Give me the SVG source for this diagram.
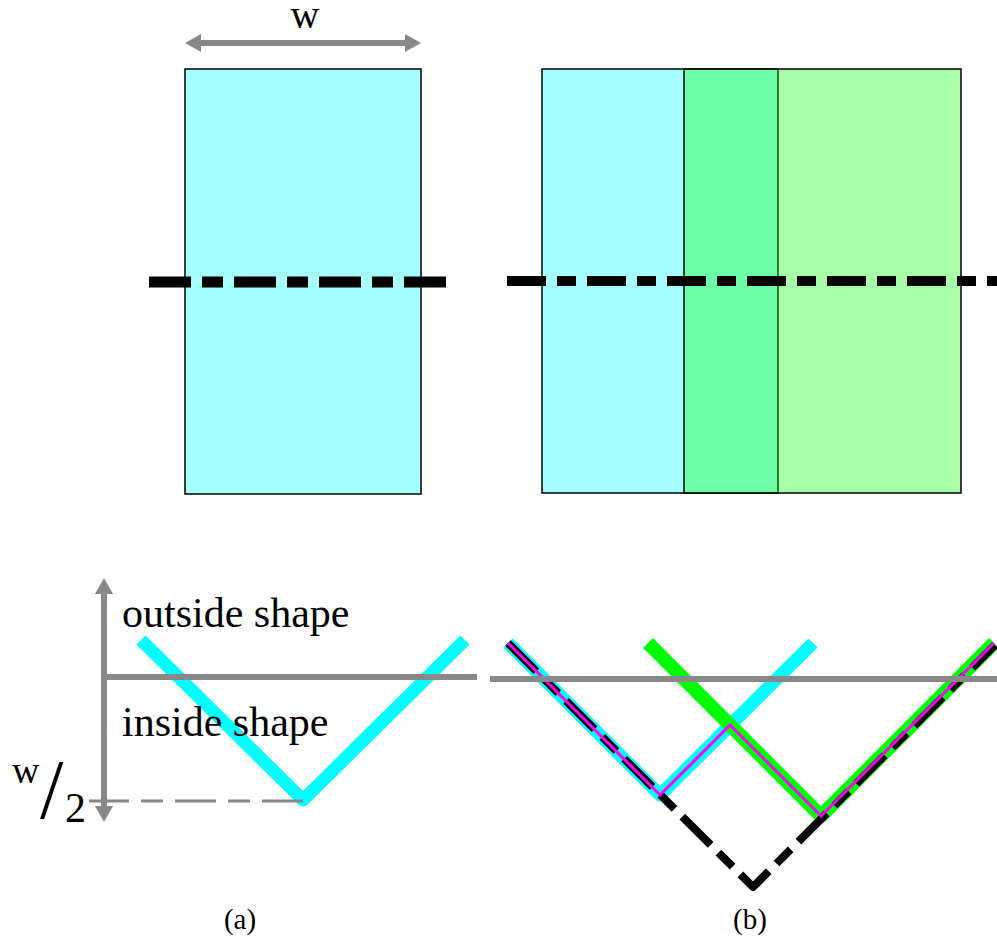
<svg xmlns="http://www.w3.org/2000/svg" width="997" height="942" viewBox="0 0 997 942">
<style>
  .txt { font-family: "Liberation Serif", "Times New Roman", serif; fill: #000; }
  .rect { stroke: #000; stroke-width: 1.5; }
  .dashdot { fill: none; stroke: #000; }
  .gray { fill: none; stroke: #888; stroke-width: 6; }
  .vcyan { fill: none; stroke: #00FFFF; stroke-width: 13; stroke-linejoin: round; }
  .vgreen { fill: none; stroke: #00FF00; stroke-width: 14; stroke-linejoin: round; }
</style>
<defs>
  <marker id="ah" viewBox="0 0 16 18" refX="6" refY="9" markerWidth="16" markerHeight="18" markerUnits="userSpaceOnUse" orient="auto-start-reverse">
    <path d="M0,0 L16,9 L0,18 z" fill="#888"/>
  </marker>
</defs>
<rect width="997" height="942" fill="#fff"/>

<g id="panel-a-top">
  <rect id="rect-a" class="rect" x="185" y="69" width="236" height="425" fill="#A6FFFF"/>
  <path class="dashdot" d="M149,282 H448" stroke-width="11" stroke-dasharray="42 11 21 11"/>
  <line class="gray" x1="195" y1="43" x2="411" y2="43" marker-start="url(#ah)" marker-end="url(#ah)"/>
  <text class="txt" x="305" y="28" font-size="40" text-anchor="middle">w</text>
</g>

<g id="panel-b-top">
  <rect id="rect-b-cyan" class="rect" x="542" y="69" width="236" height="424" fill="#00FFFF" fill-opacity="0.35"/>
  <rect id="rect-b-green" class="rect" x="684" y="69" width="277" height="424" fill="#00FF00" fill-opacity="0.34"/>
  <path class="dashdot" d="M507,281 H997" stroke-width="10" stroke-dasharray="39 11 19 11"/>
</g>

<g id="panel-a-bottom">
  <path class="vcyan" d="M141,640 L303,800 L465,640"/>
  <path d="M303,801 H89" fill="none" stroke="#888" stroke-width="3" stroke-dasharray="41 12 22 12"/>
  <line class="gray" x1="104" y1="588" x2="104" y2="812" marker-start="url(#ah)" marker-end="url(#ah)"/>
  <path class="gray" d="M101,677 H477"/>
  <text class="txt" x="122" y="627" font-size="42">outside shape</text>
  <text class="txt" x="122" y="736" font-size="42">inside shape</text>
  <text class="txt" x="12" y="783" font-size="38">w</text>
  <text class="txt" x="40" y="818" font-size="84">/</text>
  <text class="txt" x="65" y="822" font-size="42">2</text>
</g>

<g id="panel-b-bottom">
  <path class="vcyan" d="M508,643 L660,795 L813,643"/>
  <path class="vgreen" d="M648,643 L821,816 L994,643"/>
  <path d="M508,643 L753,887 L995,645" fill="none" stroke="#000" stroke-width="8" stroke-linejoin="round" stroke-dasharray="40 11 20 11"/>
  <path d="M508,643 L660,795 L730,725 L821,816 L994,643" fill="none" stroke="#FF00FF" stroke-width="3"/>
  <path class="gray" d="M490,679 H997"/>
</g>

<g id="captions">
  <text class="txt" x="240" y="929" font-size="29" text-anchor="middle">(a)</text>
  <text class="txt" x="750" y="929" font-size="29" text-anchor="middle">(b)</text>
</g>
</svg>
